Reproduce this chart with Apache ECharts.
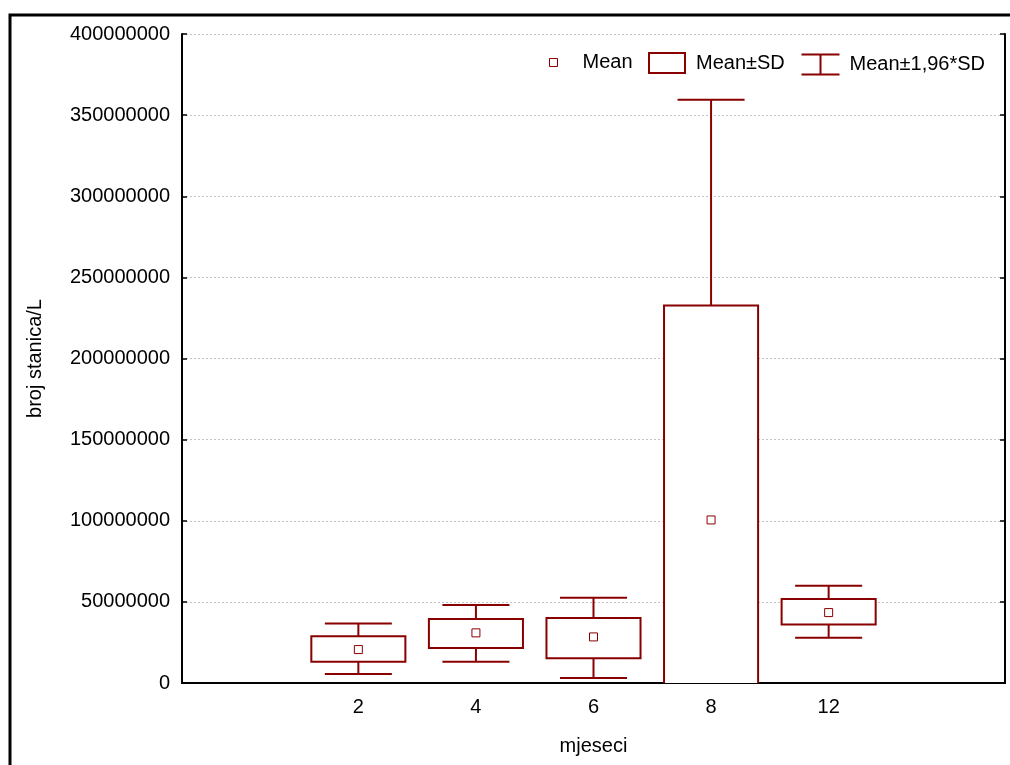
<!DOCTYPE html>
<html>
<head>
<meta charset="utf-8">
<script src="https://cdn.jsdelivr.net/npm/echarts@6/dist/echarts.min.js"></script>
<style>html,body{margin:0;padding:0;background:#fff}#c{width:1010px;height:765px}</style>
</head>
<body>
<div id="c"></div>
<script>
// ---- data ----
const categories = ['', '2', '4', '6', '8', '12', ''];
const groups = ['2', '4', '6', '8', '12'];
const means  = [20.6e6, 30.9e6, 28.4e6, 100.5e6, 43.4e6];
const sdLow  = [13.1e6, 21.6e6, 15.2e6, -31.5e6, 36.1e6];
const sdHigh = [28.8e6, 39.5e6, 40.1e6, 232.6e6, 51.7e6];
const ciLow  = [5.6e6, 13.1e6, 3.1e6, -158e6, 27.9e6];
const ciHigh = [36.6e6, 48.1e6, 52.5e6, 359.4e6, 59.9e6];
const yMin = 0, yMax = 400000000, yStep = 50000000;
const seriesNames = ['Mean', 'Mean±SD', 'Mean±1,96*SD'];
const axisNames = { x: 'mjeseci', y: 'broj stanica/L' };

const COLOR = '#880000';
const FONT = 'Liberation Sans, Arial, sans-serif';
const idx = g => categories.indexOf(g);

const boxData = groups.map((g, i) => [idx(g), sdLow[i], sdHigh[i]]);
const whiskerData = groups.map((g, i) => [idx(g), ciLow[i], sdLow[i], sdHigh[i], ciHigh[i]]);
const meanData = groups.map((g, i) => [idx(g), means[i]]);

function renderBox(params, api) {
  const x = api.value(0);
  const lo = api.coord([x, api.value(1)]);
  const hi = api.coord([x, api.value(2)]);
  const w = api.size([1, 0])[0] * 0.8;
  return {
    type: 'rect',
    shape: { x: lo[0] - w / 2, y: hi[1], width: w, height: lo[1] - hi[1] },
    style: { fill: '#fff', stroke: COLOR, lineWidth: 2 }
  };
}
function renderWhisker(params, api) {
  const x = api.value(0);
  const pLo = api.coord([x, api.value(1)]);
  const pSdLo = api.coord([x, api.value(2)]);
  const pSdHi = api.coord([x, api.value(3)]);
  const pHi = api.coord([x, api.value(4)]);
  const cw = api.size([1, 0])[0] * 0.57;
  const st = { stroke: COLOR, lineWidth: 2 };
  return {
    type: 'group',
    children: [
      { type: 'line', shape: { x1: pHi[0], y1: pHi[1], x2: pSdHi[0], y2: pSdHi[1] }, style: st },
      { type: 'line', shape: { x1: pHi[0] - cw / 2, y1: pHi[1], x2: pHi[0] + cw / 2, y2: pHi[1] }, style: st },
      { type: 'line', shape: { x1: pLo[0], y1: pLo[1], x2: pSdLo[0], y2: pSdLo[1] }, style: st },
      { type: 'line', shape: { x1: pLo[0] - cw / 2, y1: pLo[1], x2: pLo[0] + cw / 2, y2: pLo[1] }, style: st }
    ]
  };
}

const legendIcons = [
  { icon: 'path://M0,0M43,22M15,7h8v8h-8z', itemStyle: { color: '#fff', borderColor: COLOR, borderWidth: 1 } },
  { icon: 'path://M0,0M43,22M1,1H37V21H1Z', itemStyle: { color: '#fff', borderColor: COLOR, borderWidth: 2 } },
  { icon: 'path://M0,0M43,22M0,1H38M19,1V21M0,21H38', itemStyle: { color: 'none', borderColor: COLOR, borderWidth: 2 } }
];
const legendLeft = [534, 647, 799];
const legends = seriesNames.map((n, i) => ({
  left: legendLeft[i], top: 51, padding: 0,
  itemWidth: 43, itemHeight: 22, selectedMode: false,
  textStyle: { fontSize: 20, color: '#000', fontFamily: FONT },
  data: [Object.assign({ name: n }, legendIcons[i])]
}));

const chart = echarts.init(document.getElementById('c'), null, { renderer: 'canvas' });
const axisLineStyle = { color: '#000', width: 2 };
chart.setOption({
  backgroundColor: '#fff',
  animation: false,
  textStyle: { fontFamily: FONT },
  graphic: [{
    type: 'rect', z: 100,
    shape: { x: 10, y: 15, width: 1100, height: 800 },
    style: { fill: 'none', stroke: '#000', lineWidth: 3 }
  }],
  grid: { left: 182, right: 5, top: 34, bottom: 82, containLabel: false },
  legend: legends,
  xAxis: [{
    type: 'category', data: categories, boundaryGap: true, position: 'bottom',
    name: axisNames.x, nameLocation: 'middle', nameGap: 53,
    nameTextStyle: { fontSize: 20, color: '#000', fontFamily: FONT },
    axisLine: { lineStyle: axisLineStyle },
    axisTick: { inside: true, alignWithLabel: true, interval: 0, length: 5, lineStyle: { color: '#000', width: 1.5 } },
    axisLabel: { interval: 0, fontSize: 20, color: '#000', margin: 14, fontFamily: FONT },
    splitLine: { show: false }
  }, {
    type: 'category', data: categories, boundaryGap: true, position: 'top',
    axisLine: { lineStyle: axisLineStyle },
    axisTick: { inside: true, alignWithLabel: true, interval: 0, length: 5, lineStyle: { color: '#000', width: 1.5 } },
    axisLabel: { show: false }, splitLine: { show: false }
  }],
  yAxis: [{
    type: 'value', min: yMin, max: yMax, interval: yStep, position: 'left',
    name: axisNames.y, nameLocation: 'middle', nameGap: 137,
    nameTextStyle: { fontSize: 20, color: '#000', fontFamily: FONT },
    axisLine: { show: true, lineStyle: axisLineStyle },
    axisTick: { show: true, inside: true, length: 5, lineStyle: { color: '#000', width: 1.5 } },
    axisLabel: { fontSize: 20, color: '#000', margin: 12, fontFamily: FONT, formatter: v => String(v) },
    splitLine: { show: true, lineStyle: { color: '#c4c4c4', type: [2, 2], width: 1 } }
  }, {
    type: 'value', min: yMin, max: yMax, interval: yStep, position: 'right',
    axisLine: { show: true, lineStyle: axisLineStyle },
    axisTick: { show: true, inside: true, length: 5, lineStyle: { color: '#000', width: 1.5 } },
    axisLabel: { show: false }, splitLine: { show: false }
  }],
  series: [{
    name: seriesNames[2], type: 'custom', clip: true, xAxisIndex: 0, yAxisIndex: 0,
    renderItem: renderWhisker, data: whiskerData, z: 2,
    itemStyle: { color: COLOR }
  }, {
    name: seriesNames[1], type: 'custom', clip: true, xAxisIndex: 0, yAxisIndex: 0,
    renderItem: renderBox, data: boxData, z: 3,
    itemStyle: { color: COLOR }
  }, {
    name: seriesNames[0], type: 'scatter', xAxisIndex: 0, yAxisIndex: 0,
    symbol: 'rect', symbolSize: 8, data: meanData, z: 4,
    itemStyle: { color: '#fff', borderColor: COLOR, borderWidth: 1, opacity: 1 }
  }]
});
</script>
</body>
</html>
